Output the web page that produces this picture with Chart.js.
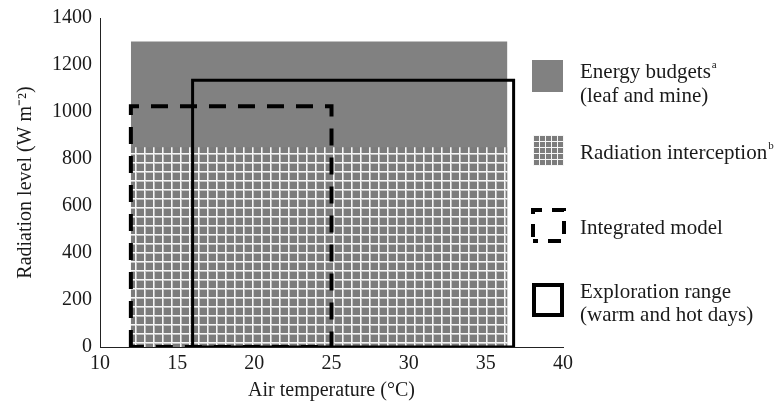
<!DOCTYPE html>
<html>
<head>
<meta charset="utf-8">
<script src="https://cdn.jsdelivr.net/npm/chart.js@4.4.1/dist/chart.umd.min.js"></script>
<style>
    html, body { margin: 0; padding: 0; background: #fff; }
    #wrap { width: 778px; height: 405px; }
</style>
</head>
<body>
<div id="wrap"><canvas id="chart"></canvas></div>
<script>
// =============================
// Data
// =============================

const xTicks = [10, 15, 20, 25, 30, 35, 40];
const yTicks = [0, 200, 400, 600, 800, 1000, 1200, 1400];

// filled zones: [xFrom, xTo] and top level
const energyX = [12, 36.4];
const energyTop = 1300;
const interceptX = [12, 36.4];
const interceptTop = 850;

// outlined boxes: [xFrom, xTo], [yFrom, yTo]
const modelX = [12, 25];
const modelY = [0, 1025];
const exploreX = [16, 36.8];
const exploreY = [0, 1135];

const legendNames = [
    ['Energy budgets', 'a', '(leaf and mine)'],
    ['Radiation interception', 'b', ''],
    ['Integrated model', '', ''],
    ['Exploration range', '', '(warm and hot days)']
];

const FONT = '"Liberation Serif", "Times New Roman", serif';
const GREY = '#818181';

// =============================
// Hatch pattern
// =============================

function makeHatch(size, line) {
    const c = document.createElement('canvas');
    c.width = size;
    c.height = size;
    const g = c.getContext('2d');
    g.fillStyle = '#c4c4c4';
    g.fillRect(0, 0, size, size);
    g.fillStyle = '#f6f6f6';
    g.fillRect(0, 0, size, 1);
    g.fillRect(0, 0, 1, size);
    g.fillStyle = '#7c7c7c';
    g.fillRect(line, line, size - line, size - line);
    return g.createPattern(c, 'repeat');
}

const hatch = makeHatch(9, 2);
const smallHatch = makeHatch(6, 1);

function band(xs, top) {
    return [{ x: xs[0], y: top }, { x: xs[1], y: top }];
}

function box(xs, ys) {
    return [
        { x: xs[0], y: ys[0] },
        { x: xs[0], y: ys[1] },
        { x: xs[1], y: ys[1] },
        { x: xs[1], y: ys[0] },
        { x: xs[0], y: ys[0] }
    ];
}

// =============================
// Legend drawn on the canvas
// =============================

const sideLegend = {
    id: 'sideLegend',
    afterDraw(chart) {
        const ctx = chart.ctx;
        const ix = chart.chartArea.right - 31;
        const tx = chart.chartArea.right + 17;
        const rows = [60, 135, 208, 283];
        ctx.save();

        // icons
        ctx.fillStyle = GREY;
        ctx.fillRect(ix, rows[0], 31, 32);

        ctx.translate(ix + 1, rows[1]);
        ctx.fillStyle = smallHatch;
        ctx.fillRect(0, 0, 31, 31);
        ctx.translate(-(ix + 1), -rows[1]);

        ctx.strokeStyle = '#000';
        ctx.lineWidth = 4;
        ctx.setLineDash([13, 10]);
        ctx.lineDashOffset = -4;
        ctx.beginPath();
        ctx.moveTo(ix + 1, rows[2] + 33);
        ctx.lineTo(ix + 1, rows[2] + 2);
        ctx.lineTo(ix + 32, rows[2] + 2);
        ctx.lineTo(ix + 32, rows[2] + 33);
        ctx.lineTo(ix + 1, rows[2] + 33);
        ctx.stroke();

        ctx.setLineDash([]);
        ctx.lineWidth = 4;
        ctx.strokeRect(ix + 2, rows[3] + 2, 28, 30);

        // texts
        ctx.fillStyle = '#1a1a1a';
        ctx.textBaseline = 'middle';
        const lines = [[72, 96], [153, 0], [228, 0], [292, 315]];
        legendNames.forEach((n, i) => {
            ctx.font = '21px ' + FONT;
            ctx.fillText(n[0], tx, lines[i][0]);
            if (n[1]) {
                const w = ctx.measureText(n[0]).width;
                ctx.font = '11px ' + FONT;
                ctx.fillText(n[1], tx + w + 1, lines[i][0] - 7);
                ctx.font = '21px ' + FONT;
            }
            if (n[2]) ctx.fillText(n[2], tx, lines[i][1]);
        });
        ctx.restore();
    }
};

// =============================
// Chart
// =============================

new Chart(document.getElementById('chart'), {
    type: 'scatter',
    data: {
        datasets: [
            {
                label: 'Energy budgets',
                data: band(energyX, energyTop),
                order: 4,
                showLine: true,
                fill: 'origin',
                backgroundColor: GREY,
                borderWidth: 0,
                pointRadius: 0
            },
            {
                label: 'Radiation interception',
                data: band(interceptX, interceptTop),
                order: 3,
                showLine: true,
                fill: 'origin',
                backgroundColor: hatch,
                borderWidth: 0,
                pointRadius: 0
            },
            {
                label: 'Integrated model',
                data: box(modelX, modelY),
                order: 1,
                showLine: true,
                fill: false,
                borderColor: '#000',
                borderWidth: 4,
                borderDash: [17, 12],
                borderCapStyle: 'butt',
                pointRadius: 0
            },
            {
                label: 'Exploration range',
                data: box(exploreX, exploreY),
                order: 2,
                showLine: true,
                fill: false,
                borderColor: '#000',
                borderWidth: 3,
                borderJoinStyle: 'miter',
                pointRadius: 0
            }
        ]
    },
    options: {
        responsive: true,
        maintainAspectRatio: false,
        animation: false,
        layout: {
            padding: { top: 18, right: 215, left: 0, bottom: 0 }
        },
        plugins: {
            legend: { display: false },
            tooltip: { enabled: false }
        },
        scales: {
            x: {
                type: 'linear',
                min: 10,
                max: 40,
                afterBuildTicks: (axis) => { axis.ticks = xTicks.map(v => ({ value: v })); },
                afterFit: (axis) => { axis.height = 58; },
                grid: { display: false, drawTicks: false },
                border: { display: true, color: '#222', width: 1 },
                ticks: {
                    color: '#1a1a1a',
                    padding: 5,
                    font: { family: FONT, size: 20 },
                    callback: (v) => String(v)
                },
                title: {
                    display: true,
                    text: 'Air temperature (°C)',
                    color: '#1a1a1a',
                    padding: { top: 0, bottom: 2 },
                    font: { family: FONT, size: 20 }
                }
            },
            y: {
                min: 0,
                max: 1400,
                afterBuildTicks: (axis) => { axis.ticks = yTicks.map(v => ({ value: v })); },
                afterFit: (axis) => { axis.width = 100; },
                grid: { display: false, drawOnChartArea: false, drawTicks: true, tickLength: 5, color: '#222' },
                border: { display: true, color: '#222', width: 1 },
                ticks: {
                    color: '#1a1a1a',
                    padding: 3,
                    font: { family: FONT, size: 20 },
                    callback: (v) => String(v)
                },
                title: {
                    display: true,
                    text: 'Radiation level (W m⁻²)',
                    color: '#1a1a1a',
                    padding: { top: 14, bottom: 0 },
                    font: { family: FONT, size: 20 }
                }
            }
        }
    },
    plugins: [sideLegend]
});
</script>
</body>
</html>
